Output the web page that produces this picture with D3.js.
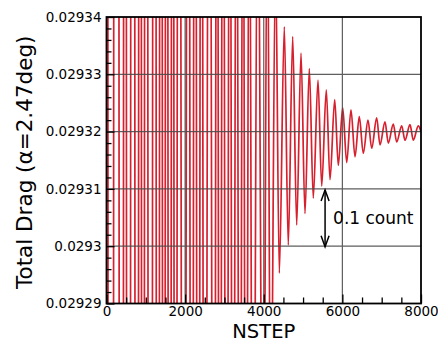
<!DOCTYPE html>
<html>
<head>
<meta charset="utf-8">
<script src="https://cdn.jsdelivr.net/npm/d3@7"></script>
<style>
html,body{margin:0;padding:0;background:#fff;}
svg{display:block;font-family:"DejaVu Sans",Verdana,sans-serif;}
</style>
</head>
<body>
<svg id="chart" width="438" height="341"></svg>
<script>
// ---- data (extrema of the drag history) ----
const steps = [0,109,248,394,466,551,670,776,852,928,1000,1110,1225,1305,1386,1459,1526,1606,1683,1751,1837,1964,2082,2166,2251,2333,2413,2497,2615,2734,2811,2882,2963,3052,3136,3218,3307,3391,3472,3548,3632,3726,3846,3986,4092,4176,4299,
  4396,4523,4624,4736,4838,4948,5049,5159,5260,5380,5474,5591,5685,5805,5896,6008,6110,6219,6321,6430,6532,6652,6746,6873,6957,7084,7168,7295,7382,7509,7593,7720,7804,7931,8000];
const drag = [0.02990,0.02870,0.02985,0.02875,0.02980,0.02880,0.02975,0.02885,0.02970,0.02890,0.02966,0.02894,0.02962,0.02898,0.02958,0.02902,0.02955,0.02905,0.02952,0.02908,0.02950,0.02910,0.02948,0.02912,0.02946,0.02914,0.02945,0.02915,0.02944,0.02916,0.02943,0.02917,0.02942,0.02918,0.02941,0.02919,0.02940,0.02920,0.02939,0.02921,0.02938,0.02922,0.02937,0.02924,0.029365,0.02926,0.029350,
  0.0292953,0.0293383,0.0293002,0.0293366,0.0293037,0.0293337,0.0293057,0.0293310,0.0293084,0.0293290,0.0293105,0.0293273,0.0293116,0.0293256,0.0293141,0.0293242,0.0293146,0.0293238,0.0293156,0.0293226,0.0293162,0.0293220,0.0293171,0.0293224,0.0293177,0.0293217,0.0293180,0.0293213,0.0293182,0.0293210,0.0293185,0.0293212,0.0293185,0.0293210,0.0293200];
const xTicks = [0,2000,4000,6000,8000];
const xTickLabels = ["0","2000","4000","6000","8000"];
const xMinor = [500,1000,1500,2500,3000,3500,4500,5000,5500,6500,7000,7500];
const yTicks = [0.02929,0.0293,0.02931,0.02932,0.02933,0.02934];
const yTickLabels = ["0.02929","0.0293","0.02931","0.02932","0.02933","0.02934"];
const yMinor = [0.029292,0.029294,0.029296,0.029298,0.029302,0.029304,0.029306,0.029308,0.029312,0.029314,0.029316,0.029318,0.029322,0.029324,0.029326,0.029328,0.029332,0.029334,0.029336,0.029338];
const xTitle = "NSTEP";
const yTitle = "Total Drag (\u03B1=2.47deg)";
const noteText = "0.1 count";
const noteRange = [0.02931, 0.0293];
const noteStep = 5560;

// ---- layout ----
const svg = d3.select("#chart");
const L = 106.5, R = 421, T = 17, B = 303.5;
const x = d3.scaleLinear().domain([0, 8000]).range([L, R]);
const y = d3.scaleLinear().domain([0.02929, 0.02934]).range([B, T]);
const data = steps.map((s, i) => ({s, v: drag[i]}));

svg.append("defs").append("clipPath").attr("id", "clip")
  .append("rect").attr("x", L).attr("y", T).attr("width", R - L).attr("height", B - T);

// data line
svg.append("path")
  .datum(data)
  .attr("clip-path", "url(#clip)")
  .attr("fill", "none")
  .attr("stroke", "#d6202e")
  .attr("stroke-width", 1.7)
  .attr("stroke-linejoin", "round")
  .attr("d", d3.line().x(d => x(d.s)).y(d => y(d.v)).curve(d3.curveMonotoneX));

// gridlines
const grid = svg.append("g").attr("stroke", "#4d4d4d").attr("stroke-width", 1.2).attr("opacity", 0.9);
grid.selectAll("line.gx").data(xTicks.slice(1, -1)).join("line")
  .attr("x1", d => x(d)).attr("x2", d => x(d)).attr("y1", T).attr("y2", B);
grid.selectAll("line.gy").data(yTicks.slice(1, -1)).join("line")
  .attr("y1", d => y(d)).attr("y2", d => y(d)).attr("x1", L).attr("x2", R);

// axes
function styleAxis(g) {
  g.select(".domain").remove();
  g.selectAll(".tick line").attr("stroke", "#000").attr("stroke-width", 1.3);
  g.selectAll(".tick text").attr("fill", "#000").style("font-size", "13.5px").style("font-family", "'DejaVu Sans',sans-serif");
}
svg.append("g").attr("transform", `translate(${L},0)`)
  .call(d3.axisLeft(y).tickValues(yTicks).tickSize(-8).tickPadding(5).tickFormat((d, i) => yTickLabels[i]))
  .call(styleAxis);
svg.append("g").attr("transform", `translate(${L},0)`)
  .call(d3.axisLeft(y).tickValues(yMinor).tickSize(-5).tickFormat(""))
  .call(styleAxis);
svg.append("g").attr("transform", `translate(0,${B})`)
  .call(d3.axisBottom(x).tickValues(xTicks).tickSize(-9).tickPadding(2.5).tickFormat((d, i) => xTickLabels[i]))
  .call(styleAxis);
svg.append("g").attr("transform", `translate(0,${B})`)
  .call(d3.axisBottom(x).tickValues(xMinor).tickSize(-6).tickFormat(""))
  .call(styleAxis);

// frame
svg.append("rect").attr("x", L).attr("y", T).attr("width", R - L).attr("height", B - T)
  .attr("fill", "none").attr("stroke", "#000").attr("stroke-width", 1.8);

// titles
svg.append("text").attr("x", (L + R) / 2).attr("y", 337.5)
  .attr("text-anchor", "middle").style("font-size", "19.5px").text(xTitle);
svg.append("text").attr("transform", `translate(32,${(T + B) / 2 + 2}) rotate(-90)`)
  .attr("text-anchor", "middle").style("font-size", "21.5px").text(yTitle);

// annotation arrow
const ax = x(noteStep), ay1 = y(noteRange[0]) + 1, ay2 = y(noteRange[1]) + 0.5;
const ann = svg.append("g").attr("stroke", "#000").attr("stroke-width", 1.5).attr("fill", "none");
ann.append("line").attr("x1", ax).attr("x2", ax).attr("y1", ay1).attr("y2", ay2);
ann.append("path").attr("d", `M${ax - 4},${ay1 + 11}L${ax},${ay1}L${ax + 4},${ay1 + 11}`);
ann.append("path").attr("d", `M${ax - 4},${ay2 - 11}L${ax},${ay2}L${ax + 4},${ay2 - 11}`);
svg.append("text").attr("x", ax + 8).attr("y", (ay1 + ay2) / 2 + 6)
  .style("font-size", "17px").text(noteText);
</script>
</body>
</html>
